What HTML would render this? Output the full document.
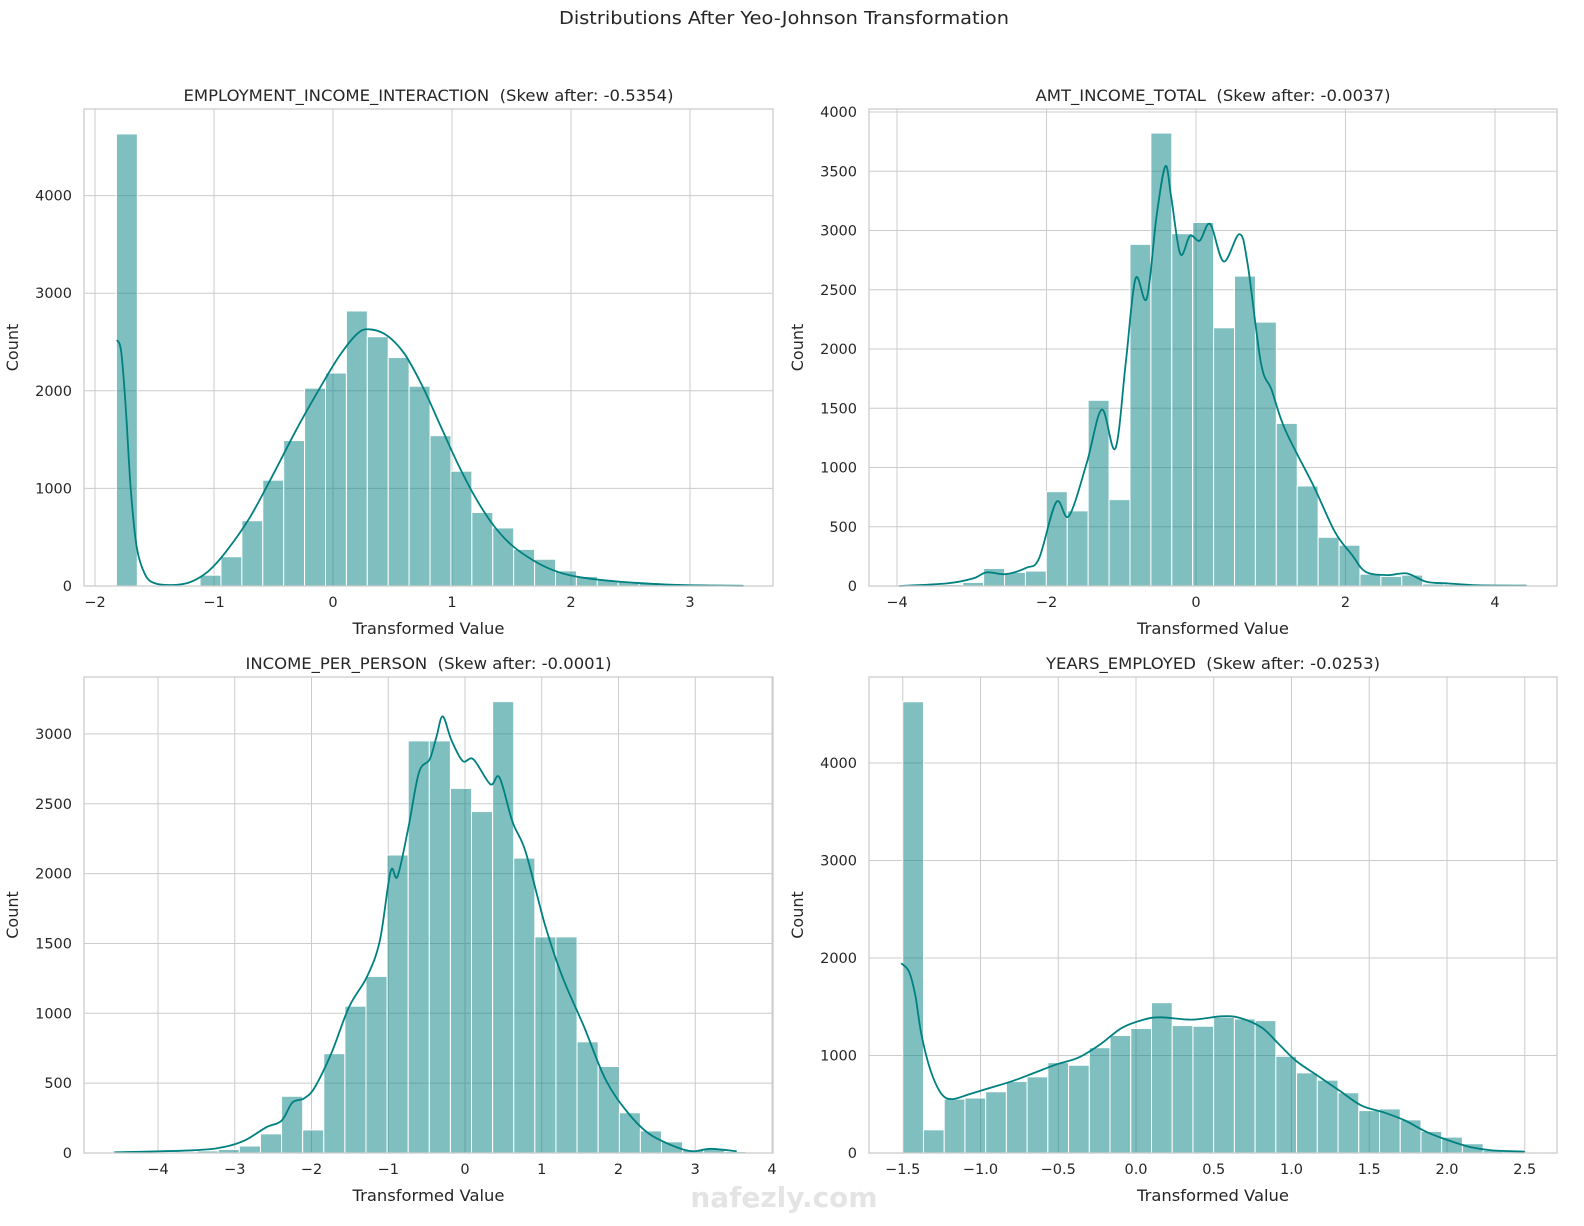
<!DOCTYPE html>
<html><head><meta charset="utf-8"><title>Distributions After Yeo-Johnson Transformation</title>
<style>
html,body{margin:0;padding:0;background:#fff;}
svg{display:block;font-family:"DejaVu Sans","Liberation Sans",sans-serif;}
text{white-space:pre;}
</style></head>
<body>
<svg id="fig" width="1584" height="1226" viewBox="0 0 1584 1226" xmlns="http://www.w3.org/2000/svg">
<rect width="1584" height="1226" fill="#fff"/>
<text x="784" y="24" text-anchor="middle" font-size="18" fill="#262626" textLength="450" lengthAdjust="spacingAndGlyphs">Distributions After Yeo-Johnson Transformation</text>
<text x="784" y="1207" text-anchor="middle" font-size="28" font-weight="bold" fill="#e4e4e4">nafezly.com</text>
</svg>
<script>
// ---------- data ----------
const titles1 = "EMPLOYMENT_INCOME_INTERACTION\u00a0\u00a0(Skew after: -0.5354)";
const binStart1 = -1.82;
const binWidth1 = 0.1757;
const counts1 = [4632,0,0,0,111,300,669,1084,1490,2027,2182,2818,2554,2341,2047,1540,1176,753,595,375,274,155,98,60,45,35,25,15,12,8];
const kdeX1 = [-1.815,-1.78,-1.74,-1.70,-1.65,-1.58,-1.5,-1.35,-1.2,-1.05,-0.9,-0.7,-0.5,-0.3,-0.1,0.05,0.2,0.3,0.45,0.6,0.75,0.9,1.05,1.2,1.35,1.5,1.7,1.9,2.1,2.4,2.8,3.2,3.45];
const kdeY1 = [2520,2400,1800,1000,400,120,30,10,40,150,350,700,1150,1620,2050,2350,2580,2630,2570,2380,2050,1650,1250,900,620,420,250,140,85,45,15,5,2];
const xTicks1 = [-2,-1,0,1,2,3];
const yTicks1 = [0,1000,2000,3000,4000];

const titles2 = "AMT_INCOME_TOTAL\u00a0\u00a0(Skew after: -0.0037)";
const binStart2 = -3.96;
const binWidth2 = 0.2797;
const counts2 = [5,10,12,30,148,115,126,796,634,1567,729,2883,3822,2973,3068,2179,2615,2227,1372,844,411,344,100,81,92,17,14,5,3,2];
const kdeX2 = [-3.97,-3.33,-2.98,-2.80,-2.54,-2.27,-2.10,-1.87,-1.70,-1.46,-1.26,-1.08,-0.94,-0.81,-0.66,-0.53,-0.41,-0.33,-0.21,-0.08,0.05,0.19,0.37,0.58,0.69,0.87,1.01,1.19,1.57,1.86,2.09,2.27,2.56,2.82,3.08,3.37,3.78,4.42];
const kdeY2 = [0,22,64,115,100,154,232,707,590,1042,1489,1160,1880,2593,2425,3110,3543,3277,2802,2956,2914,3054,2738,2970,2719,1880,1657,1322,847,455,260,120,92,106,36,22,6,3];
const xTicks2 = [-4,-2,0,2,4];
const yTicks2 = [0,500,1000,1500,2000,2500,3000,3500,4000];

const titles3 = "INCOME_PER_PERSON\u00a0\u00a0(Skew after: -0.0001)";
const binStart3 = -4.59;
const binWidth3 = 0.275;
const counts3 = [2,3,5,8,15,25,50,137,406,165,711,1051,1264,2133,2950,2950,2610,2444,3231,2111,1547,1547,796,619,288,158,80,20,30,10];
const kdeX3 = [-4.57,-3.55,-3.15,-2.87,-2.59,-2.39,-2.25,-2.10,-1.96,-1.74,-1.51,-1.28,-1.11,-0.97,-0.88,-0.74,-0.60,-0.46,-0.37,-0.29,-0.18,-0.03,0.11,0.33,0.45,0.62,0.79,1.04,1.27,1.55,1.83,2.12,2.40,2.75,2.97,3.20,3.54];
const kdeY3 = [5,19,42,90,184,231,361,390,468,716,1046,1259,1519,2015,1979,2322,2723,2818,2983,3125,2959,2806,2818,2640,2688,2369,2156,1637,1259,905,527,290,137,42,12,30,12];
const xTicks3 = [-4,-3,-2,-1,0,1,2,3,4];
const yTicks3 = [0,500,1000,1500,2000,2500,3000];

const titles4 = "YEARS_EMPLOYED\u00a0\u00a0(Skew after: -0.0253)";
const binStart4 = -1.5;
const binWidth4 = 0.1333;
const counts4 = [4628,238,553,564,628,733,781,927,900,1080,1205,1277,1542,1307,1300,1392,1375,1358,992,822,747,618,435,452,340,221,163,95,27,20];
const kdeX4 = [-1.51,-1.46,-1.42,-1.38,-1.32,-1.25,-1.18,-1.07,-0.93,-0.79,-0.65,-0.51,-0.37,-0.23,-0.09,0.05,0.16,0.36,0.55,0.67,0.81,0.92,1.03,1.17,1.31,1.45,1.59,1.73,1.87,2.01,2.15,2.29,2.50];
const kdeY4 = [1946,1861,1623,1216,842,604,553,604,672,740,825,910,978,1114,1284,1368,1392,1368,1402,1385,1284,1114,944,791,638,486,418,333,214,129,61,27,14];
const xTicks4 = [-1.5,-1.0,-0.5,0.0,0.5,1.0,1.5,2.0,2.5];
const yTicks4 = [0,1000,2000,3000,4000];

// ---------- layout ----------
const panels = [
 {id:"employment-income", title:titles1, titleLen:490, start:binStart1, w:binWidth1, counts:counts1, kx:kdeX1, ky:kdeY1, xt:xTicks1, yt:yTicks1, dec:0,
  L:84,R:773,T:109,B:586, x0:333, xs:119, ys:0.0976},
 {id:"amt-income-total", title:titles2, titleLen:355, start:binStart2, w:binWidth2, counts:counts2, kx:kdeX2, ky:kdeY2, xt:xTicks2, yt:yTicks2, dec:0,
  L:869,R:1557,T:109,B:586, x0:1196, xs:74.75, ys:0.1185},
 {id:"income-per-person", title:titles3, titleLen:366, start:binStart3, w:binWidth3, counts:counts3, kx:kdeX3, ky:kdeY3, xt:xTicks3, yt:yTicks3, dec:0,
  L:84,R:773,T:677,B:1153, x0:465, xs:76.75, ys:0.1397},
 {id:"years-employed", title:titles4, titleLen:334, start:binStart4, w:binWidth4, counts:counts4, kx:kdeX4, ky:kdeY4, xt:xTicks4, yt:yTicks4, dec:1,
  L:869,R:1557,T:677,B:1153, x0:1136, xs:155.5, ys:0.0975}
];
const NS="http://www.w3.org/2000/svg";
const svg=document.getElementById("fig");
function mk(tag, attrs, parent){const e=document.createElementNS(NS,tag);for(const k in attrs)e.setAttribute(k,attrs[k]);(parent||svg).appendChild(e);return e;}
function fmt(v,dec){const s=v.toFixed(dec);return v<0?"\u2212"+s.slice(1):s;}
function smooth(pts){
  let d="M"+pts[0][0].toFixed(1)+","+pts[0][1].toFixed(1);
  for(let i=0;i<pts.length-1;i++){
    const p0=pts[Math.max(0,i-1)],p1=pts[i],p2=pts[i+1],p3=pts[Math.min(pts.length-1,i+2)];
    const c1=[p1[0]+(p2[0]-p0[0])/6,p1[1]+(p2[1]-p0[1])/6];
    const c2=[p2[0]-(p3[0]-p1[0])/6,p2[1]-(p3[1]-p1[1])/6];
    d+=" C"+c1[0].toFixed(1)+","+c1[1].toFixed(1)+" "+c2[0].toFixed(1)+","+c2[1].toFixed(1)+" "+p2[0].toFixed(1)+","+p2[1].toFixed(1);
  }
  return d;
}

panels.forEach(p=>{
  const xp=v=>p.x0+v*p.xs;
  const yp=v=>p.B-v*p.ys;
  const g=mk("g",{});
  
  
  p.xt.forEach(t=>{
    const x=xp(t);
    const l=mk("line",{x1:x,x2:x,y1:p.T,y2:p.B,stroke:"#cccccc","stroke-width":1},g);
    
    
    const tx=mk("text",{x:x,y:p.B+21,"text-anchor":"middle","font-size":14.5,fill:"#262626"},g);
    tx.textContent=fmt(t,p.dec);
    
    
  });
  p.yt.forEach(t=>{
    const y=yp(t);
    const l=mk("line",{x1:p.L,x2:p.R,y1:y,y2:y,stroke:"#cccccc","stroke-width":1},g);
    
    
    const ty=mk("text",{x:p.L-12,y:y+5,"text-anchor":"end","font-size":14.5,fill:"#262626"},g);
    ty.textContent=String(t);
    
    
  });
  p.counts.forEach((c,i)=>{
    if(c<=0) return;
    const x1=xp(p.start+i*p.w), x2=xp(p.start+(i+1)*p.w);
    const b=mk("rect",{x:x1,y:yp(c),width:x2-x1,height:c*p.ys,fill:"rgba(0,128,128,0.5)",stroke:"#ffffff","stroke-width":1},g);
    
    
  });
  const pts=p.kx.map((x,i)=>[xp(x),yp(p.ky[i])]);
  const path=mk("path",{d:smooth(pts),fill:"none",stroke:"#008080","stroke-width":1.8,"stroke-linejoin":"round"},g);
  
  
  const fr=mk("rect",{x:p.L,y:p.T,width:p.R-p.L,height:p.B-p.T,fill:"none",stroke:"#cccccc","stroke-width":1.3},g);
  
  
  const tt=mk("text",{x:(p.L+p.R)/2,y:p.T-8,"text-anchor":"middle","font-size":16,fill:"#262626",textLength:p.titleLen,lengthAdjust:"spacingAndGlyphs"},g);
  tt.textContent=p.title;
  
  
  const xl=mk("text",{x:(p.L+p.R)/2,y:p.B+48,"text-anchor":"middle","font-size":16,fill:"#262626",textLength:152,lengthAdjust:"spacingAndGlyphs"},g);
  xl.textContent="Transformed Value";
  
  
  const cy=(p.T+p.B)/2;
  const yl=mk("text",{x:p.L-66,y:cy,"text-anchor":"middle","font-size":16,fill:"#262626",transform:"rotate(-90 "+(p.L-66)+" "+cy+")"},g);
  yl.textContent="Count";
  
  
});
</script>
</body></html>
